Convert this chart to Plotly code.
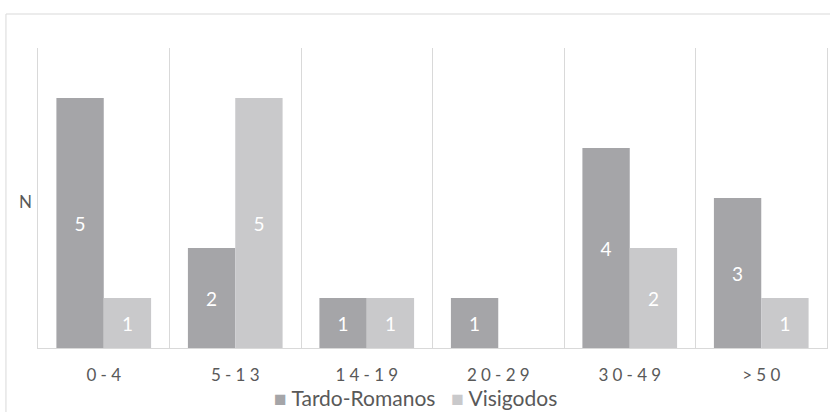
import plotly.graph_objects as go

categories = ["0-4", "5-13", "14-19", "20-29", "30-49", ">50"]
tardo_romanos = [5, 2, 1, 1, 4, 3]
visigodos = [1, 5, 1, 0, 2, 1]
series_names = ["Tardo-Romanos", "Visigodos"]
series_colors = ["#a5a5a8", "#c9c9cb"]

tick_text = ["\u2005".join(list(c)) for c in categories]

def lbl(vals):
    return [str(v) if v else "" for v in vals]

fig = go.Figure()
for name, vals, col in zip(series_names, [tardo_romanos, visigodos], series_colors):
    fig.add_trace(go.Bar(
        x=categories, y=vals, name=name, showlegend=False,
        marker=dict(color=col, line=dict(width=0)),
        text=lbl(vals), textposition="inside", insidetextanchor="middle",
        textangle=0, textfont=dict(color="white", size=19, family="Lato"),
    ))

legend_text = "\u2003".join(
    f'<span style="color:{c}">■</span> {n}' for n, c in zip(series_names, series_colors)
)

fig.update_layout(
    width=840, height=412,
    margin=dict(l=38, r=13, t=48, b=64, autoexpand=False),
    paper_bgcolor="white", plot_bgcolor="white",
    barmode="group", bargap=0.28, bargroupgap=0,
    font=dict(family="Lato", color="#595959"),
    uniformtext=dict(minsize=19, mode="show"),
    showlegend=False,
    xaxis=dict(type="category", tickmode="array", tickvals=categories, ticktext=tick_text,
               tickson="boundaries", showgrid=True, gridcolor="#d9d9d9", gridwidth=1,
               showline=True, linecolor="#d9d9d9", linewidth=1, ticks="",
               tickfont=dict(size=17, color="#595959"), range=[-0.5, 5.5],
               automargin=False, ticklabelstandoff=12),
    yaxis=dict(range=[0, 6], showgrid=False, showticklabels=False, zeroline=False,
               showline=True, mirror=True, linecolor="#d9d9d9", linewidth=1,
               ticks="", automargin=False),
    annotations=[
        dict(text="N", xref="paper", yref="paper", x=-0.0158, y=0.49,
             xanchor="center", yanchor="middle", showarrow=False,
             font=dict(size=17, color="#595959")),
        dict(text=legend_text, xref="paper", yref="paper", x=0.479, y=-0.2115,
             xanchor="center", yanchor="bottom", showarrow=False, borderpad=0,
             font=dict(size=21, color="#595959")),
    ],
    shapes=[
        dict(type="line", xref="paper", yref="paper", x0=-0.0406, x1=1.0038, y0=1.1133, y1=1.1133,
             line=dict(color="#d9d9d9", width=1)),
        dict(type="line", xref="paper", yref="paper", x0=-0.0406, x1=-0.0406, y0=-0.22, y1=1.1133,
             line=dict(color="#d9d9d9", width=1)),
    ],
)

fig.write_html("out.html")
